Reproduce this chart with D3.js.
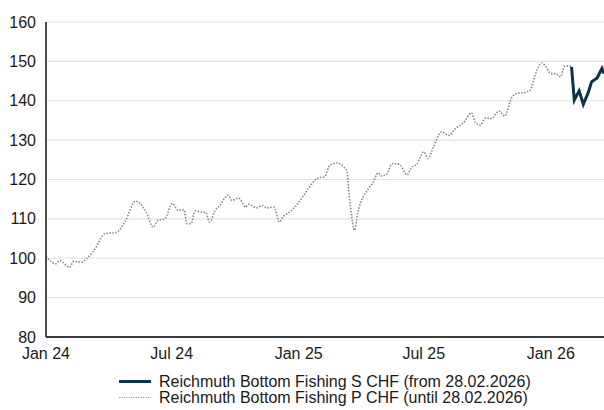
<!DOCTYPE html>
<html>
<head>
<meta charset="utf-8">
<script src="https://cdn.jsdelivr.net/npm/d3@7"></script>
<style>
  body { margin: 0; background: #fff; }
  svg { display: block; font-family: "Liberation Sans", Arial, sans-serif; }
</style>
</head>
<body>
<svg></svg>
<script>
// P share class (until 28.02.2026)
var pDates = ["2024-01-01","2024-01-15","2024-01-21","2024-02-04","2024-02-10","2024-02-22","2024-02-29",
  "2024-03-12","2024-03-26","2024-04-12","2024-04-24","2024-05-10","2024-05-25","2024-06-04","2024-06-11",
  "2024-06-21","2024-07-02","2024-07-10","2024-07-19","2024-07-23","2024-07-29","2024-08-04","2024-08-14",
  "2024-08-19","2024-08-25","2024-09-02","2024-09-09","2024-09-15","2024-09-21","2024-09-26","2024-10-06",
  "2024-10-16","2024-10-20","2024-11-01","2024-11-09","2024-11-16","2024-11-26","2024-12-04","2024-12-09",
  "2024-12-17","2024-12-24","2025-01-03","2025-01-15","2025-01-27","2025-02-08","2025-02-15","2025-02-25",
  "2025-03-07","2025-03-12","2025-03-14","2025-03-17","2025-03-23","2025-03-27","2025-04-01","2025-04-07",
  "2025-04-12","2025-04-18","2025-04-26","2025-05-01","2025-05-09","2025-05-16","2025-05-23","2025-05-28",
  "2025-06-07","2025-06-13","2025-06-21","2025-07-01","2025-07-07","2025-07-15","2025-07-27","2025-08-06",
  "2025-08-16","2025-08-28","2025-09-08","2025-09-14","2025-09-21","2025-09-28","2025-10-08","2025-10-13",
  "2025-10-18","2025-10-26","2025-11-06","2025-11-14","2025-11-23","2025-12-02","2025-12-10","2025-12-19",
  "2025-12-25","2026-01-01","2026-01-08","2026-01-15","2026-01-21","2026-01-29","2026-01-31"]
var pValues = [100.5,98.6,99.4,97.7,99.2,99.0,99.9,
  102.4,106.2,106.6,109.2,114.5,111.7,107.9,109.6,
  110.0,113.9,112.2,112.3,108.8,108.8,112.0,111.7,
  111.7,109.2,112.2,113.4,115.1,116.0,114.7,115.3,
  113.0,113.7,112.8,113.4,112.8,113.0,109.2,110.5,
  111.5,112.6,114.7,117.7,120.2,120.8,123.6,124.2,
  123.2,121.9,118.1,113.0,107.1,111.3,114.3,116.4,
  117.7,119.0,121.7,120.9,121.5,124.0,124.0,123.6,
  121.2,123.0,123.9,127.0,125.3,128.3,132.1,131.2,
  133.0,134.5,136.9,134.4,133.8,135.6,135.5,136.6,
  137.4,136.1,141.0,141.9,142.0,142.7,146.9,149.6,
  148.6,146.9,146.9,146.1,148.8,148.8,148.6]

// S share class (from 28.02.2026)
var sDates = ["2026-01-31","2026-02-04","2026-02-11","2026-02-17","2026-02-24","2026-03-01","2026-03-09","2026-03-16","2026-03-19"]
var sValues = [148.6,140.2,142.5,139.1,142.0,144.8,145.8,148.2,146.9]

var yTicks = [80, 90, 100, 110, 120, 130, 140, 150, 160]
var xTicks = ["2024-01-01","2024-07-01","2025-01-01","2025-07-01","2026-01-01"]
var xTickLabels = ["Jan 24","Jul 24","Jan 25","Jul 25","Jan 26"]
var legendLabels = ["Reichmuth Bottom Fishing S CHF (from 28.02.2026)", "Reichmuth Bottom Fishing P CHF (until 28.02.2026)"]

var width = 604, height = 410
var margin = { top: 22, right: 0, bottom: 73, left: 46 }
var parse = d3.timeParse("%Y-%m-%d")

var svg = d3.select("svg").attr("width", width).attr("height", height)

var x = d3.scaleTime()
  .domain([parse("2024-01-01"), parse("2026-03-19")])
  .range([margin.left, width - margin.right])
var y = d3.scaleLinear()
  .domain([80, 160])
  .range([height - margin.bottom, margin.top])

var pData = pDates.map(function(d, i) { return { date: parse(d), value: pValues[i] } })
var sData = sDates.map(function(d, i) { return { date: parse(d), value: sValues[i] } })

// gridlines
svg.append("g")
  .selectAll("line")
  .data(yTicks.slice(1))
  .enter().append("line")
  .attr("x1", margin.left).attr("x2", width - margin.right)
  .attr("y1", function(d) { return y(d) }).attr("y2", function(d) { return y(d) })
  .attr("stroke", "#e3e3e3")
  .attr("stroke-width", 1.2)

// y axis labels
svg.append("g")
  .selectAll("text")
  .data(yTicks)
  .enter().append("text")
  .attr("x", 36)
  .attr("y", function(d) { return y(d) + 5.5 })
  .attr("text-anchor", "end")
  .attr("font-size", 16)
  .attr("fill", "#1a1a1a")
  .text(function(d) { return d })

// x axis labels
svg.append("g")
  .selectAll("text")
  .data(xTicks)
  .enter().append("text")
  .attr("x", function(d) { return x(parse(d)) })
  .attr("y", 359)
  .attr("text-anchor", "middle")
  .attr("font-size", 16)
  .attr("fill", "#1a1a1a")
  .text(function(d, i) { return xTickLabels[i] })

var line = d3.line()
  .x(function(d) { return x(d.date) })
  .y(function(d) { return y(d.value) })
  .curve(d3.curveMonotoneX)

svg.append("path")
  .datum(pData)
  .attr("d", line)
  .attr("fill", "none")
  .attr("stroke", "#888")
  .attr("stroke-width", 1.6)
  .attr("stroke-dasharray", "1.5,1.5")

svg.append("path")
  .datum(sData)
  .attr("d", d3.line().x(function(d) { return x(d.date) }).y(function(d) { return y(d.value) }))
  .attr("fill", "none")
  .attr("stroke", "#0d3349")
  .attr("stroke-width", 3)

// axis lines
svg.append("line")
  .attr("x1", margin.left).attr("x2", margin.left)
  .attr("y1", margin.top).attr("y2", y(80))
  .attr("stroke", "#3a3a3a").attr("stroke-width", 1.8)
svg.append("line")
  .attr("x1", margin.left).attr("x2", width)
  .attr("y1", y(80)).attr("y2", y(80))
  .attr("stroke", "#3a3a3a").attr("stroke-width", 1.8)

// legend
var legend = svg.append("g")
var rows = [
  { y: 381.5, stroke: "#0d3349", width: 3, dash: null },
  { y: 397.5, stroke: "#8f8f8f", width: 1.2, dash: "1.2,1.2" }
]
rows.forEach(function(r, i) {
  legend.append("line")
    .attr("x1", 119).attr("x2", 151)
    .attr("y1", r.y).attr("y2", r.y)
    .attr("stroke", r.stroke)
    .attr("stroke-width", r.width)
    .attr("stroke-dasharray", r.dash)
  legend.append("text")
    .attr("x", 159)
    .attr("y", r.y + 5.5)
    .attr("font-size", 16)
    .attr("fill", "#1a1a1a")
    .text(legendLabels[i])
})
</script>
</body>
</html>
